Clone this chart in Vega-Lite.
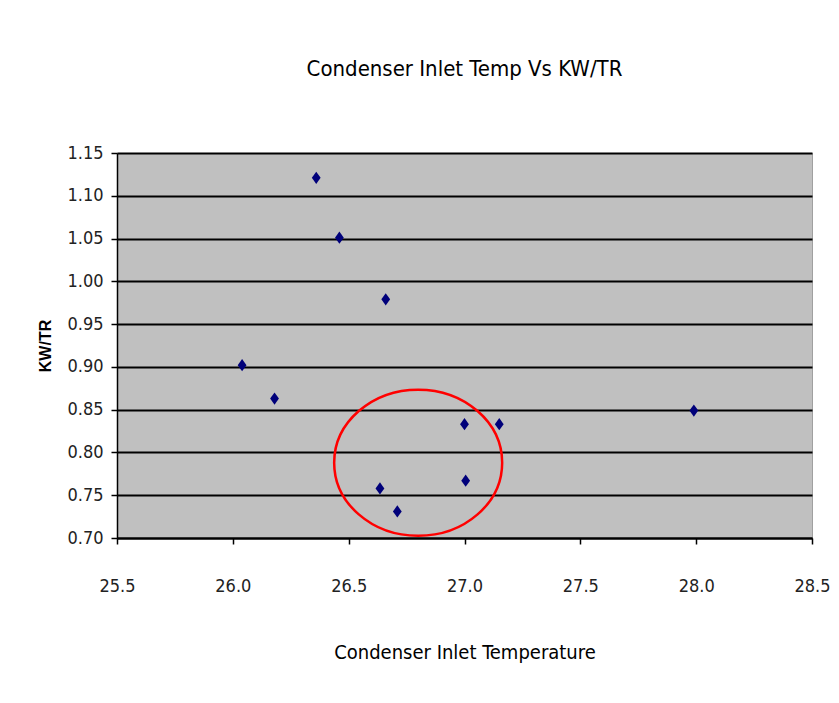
{
  "$schema": "https://vega.github.io/schema/vega-lite/v6.json",
  "width": 695,
  "height": 385,
  "autosize": "none",
  "padding": {"left": 117, "top": 153, "right": 27, "bottom": 165},
  "background": "white",
  "title": {
    "text": "Condenser Inlet Temp Vs KW/TR",
    "font": "DejaVu Sans Condensed, Liberation Sans, sans-serif",
    "fontSize": 22,
    "fontWeight": "normal",
    "color": "#000000",
    "anchor": "middle",
    "offset": 63
  },
  "config": {
    "view": {"fill": "#c0c0c0", "stroke": "#a0a0a0", "strokeWidth": 1}
  },
  "datasets": {
    "points": [
      {"temp": 26.04, "kwtr": 0.902},
      {"temp": 26.18, "kwtr": 0.863},
      {"temp": 26.36, "kwtr": 1.121},
      {"temp": 26.46, "kwtr": 1.051},
      {"temp": 26.66, "kwtr": 0.979},
      {"temp": 26.635, "kwtr": 0.758},
      {"temp": 26.71, "kwtr": 0.731},
      {"temp": 27.0, "kwtr": 0.833},
      {"temp": 27.005, "kwtr": 0.767},
      {"temp": 27.15, "kwtr": 0.833},
      {"temp": 27.99, "kwtr": 0.849}
    ],
    "highlight": [
      {"temp": 26.8, "kwtr": 0.788}
    ]
  },
  "layer": [
    {
      "data": {"name": "points"},
      "mark": {
        "type": "point",
        "shape": "M0,-1L0.72,0L0,1L-0.72,0Z",
        "filled": true,
        "color": "#00007a",
        "opacity": 1,
        "size": 150
      },
      "encoding": {
        "x": {
          "field": "temp",
          "type": "quantitative",
          "scale": {"domain": [25.5, 28.5], "nice": false, "zero": false},
          "axis": {
            "title": "Condenser Inlet Temperature",
            "titleFont": "DejaVu Sans Condensed, Liberation Sans, sans-serif",
            "titleFontSize": 20,
            "titleFontWeight": "normal",
            "titleColor": "#000000",
            "titlePadding": 47,
            "values": [25.5, 26.0, 26.5, 27.0, 27.5, 28.0, 28.5],
            "format": ".1f",
            "labelFont": "DejaVu Sans Condensed, Liberation Sans, sans-serif",
            "labelFontSize": 18,
            "labelColor": "#222222",
            "labelPadding": 33,
            "labelFlush": false,
            "tickColor": "#000000",
            "tickSize": 6,
            "tickWidth": 1.5,
            "domainColor": "#000000",
            "domainWidth": 2,
            "grid": false
          }
        },
        "y": {
          "field": "kwtr",
          "type": "quantitative",
          "scale": {"domain": [0.7, 1.15], "nice": false, "zero": false},
          "axis": {
            "title": "KW/TR",
            "titleFont": "Liberation Sans",
            "titleFontSize": 16,
            "titleFontWeight": "bold",
            "titleColor": "#000000",
            "titlePadding": 13,
            "values": [0.7, 0.75, 0.8, 0.85, 0.9, 0.95, 1.0, 1.05, 1.1, 1.15],
            "format": ".2f",
            "labelFont": "DejaVu Sans Condensed, Liberation Sans, sans-serif",
            "labelFontSize": 18,
            "labelColor": "#222222",
            "labelPadding": 8,
            "labelFlush": false,
            "tickColor": "#000000",
            "tickSize": 6,
            "tickWidth": 1.5,
            "domainColor": "#000000",
            "domainWidth": 1.5,
            "grid": true,
            "gridColor": "#000000",
            "gridWidth": 2,
            "gridOpacity": 1
          }
        }
      }
    },
    {
      "data": {"name": "highlight"},
      "mark": {
        "type": "point",
        "shape": "M-1,0A1,0.87 0 1,0 1,0A1,0.87 0 1,0 -1,0Z",
        "filled": false,
        "stroke": "#ff0000",
        "strokeWidth": 2.5,
        "opacity": 1,
        "size": 28224
      },
      "encoding": {
        "x": {"field": "temp", "type": "quantitative"},
        "y": {"field": "kwtr", "type": "quantitative"}
      }
    }
  ]
}
